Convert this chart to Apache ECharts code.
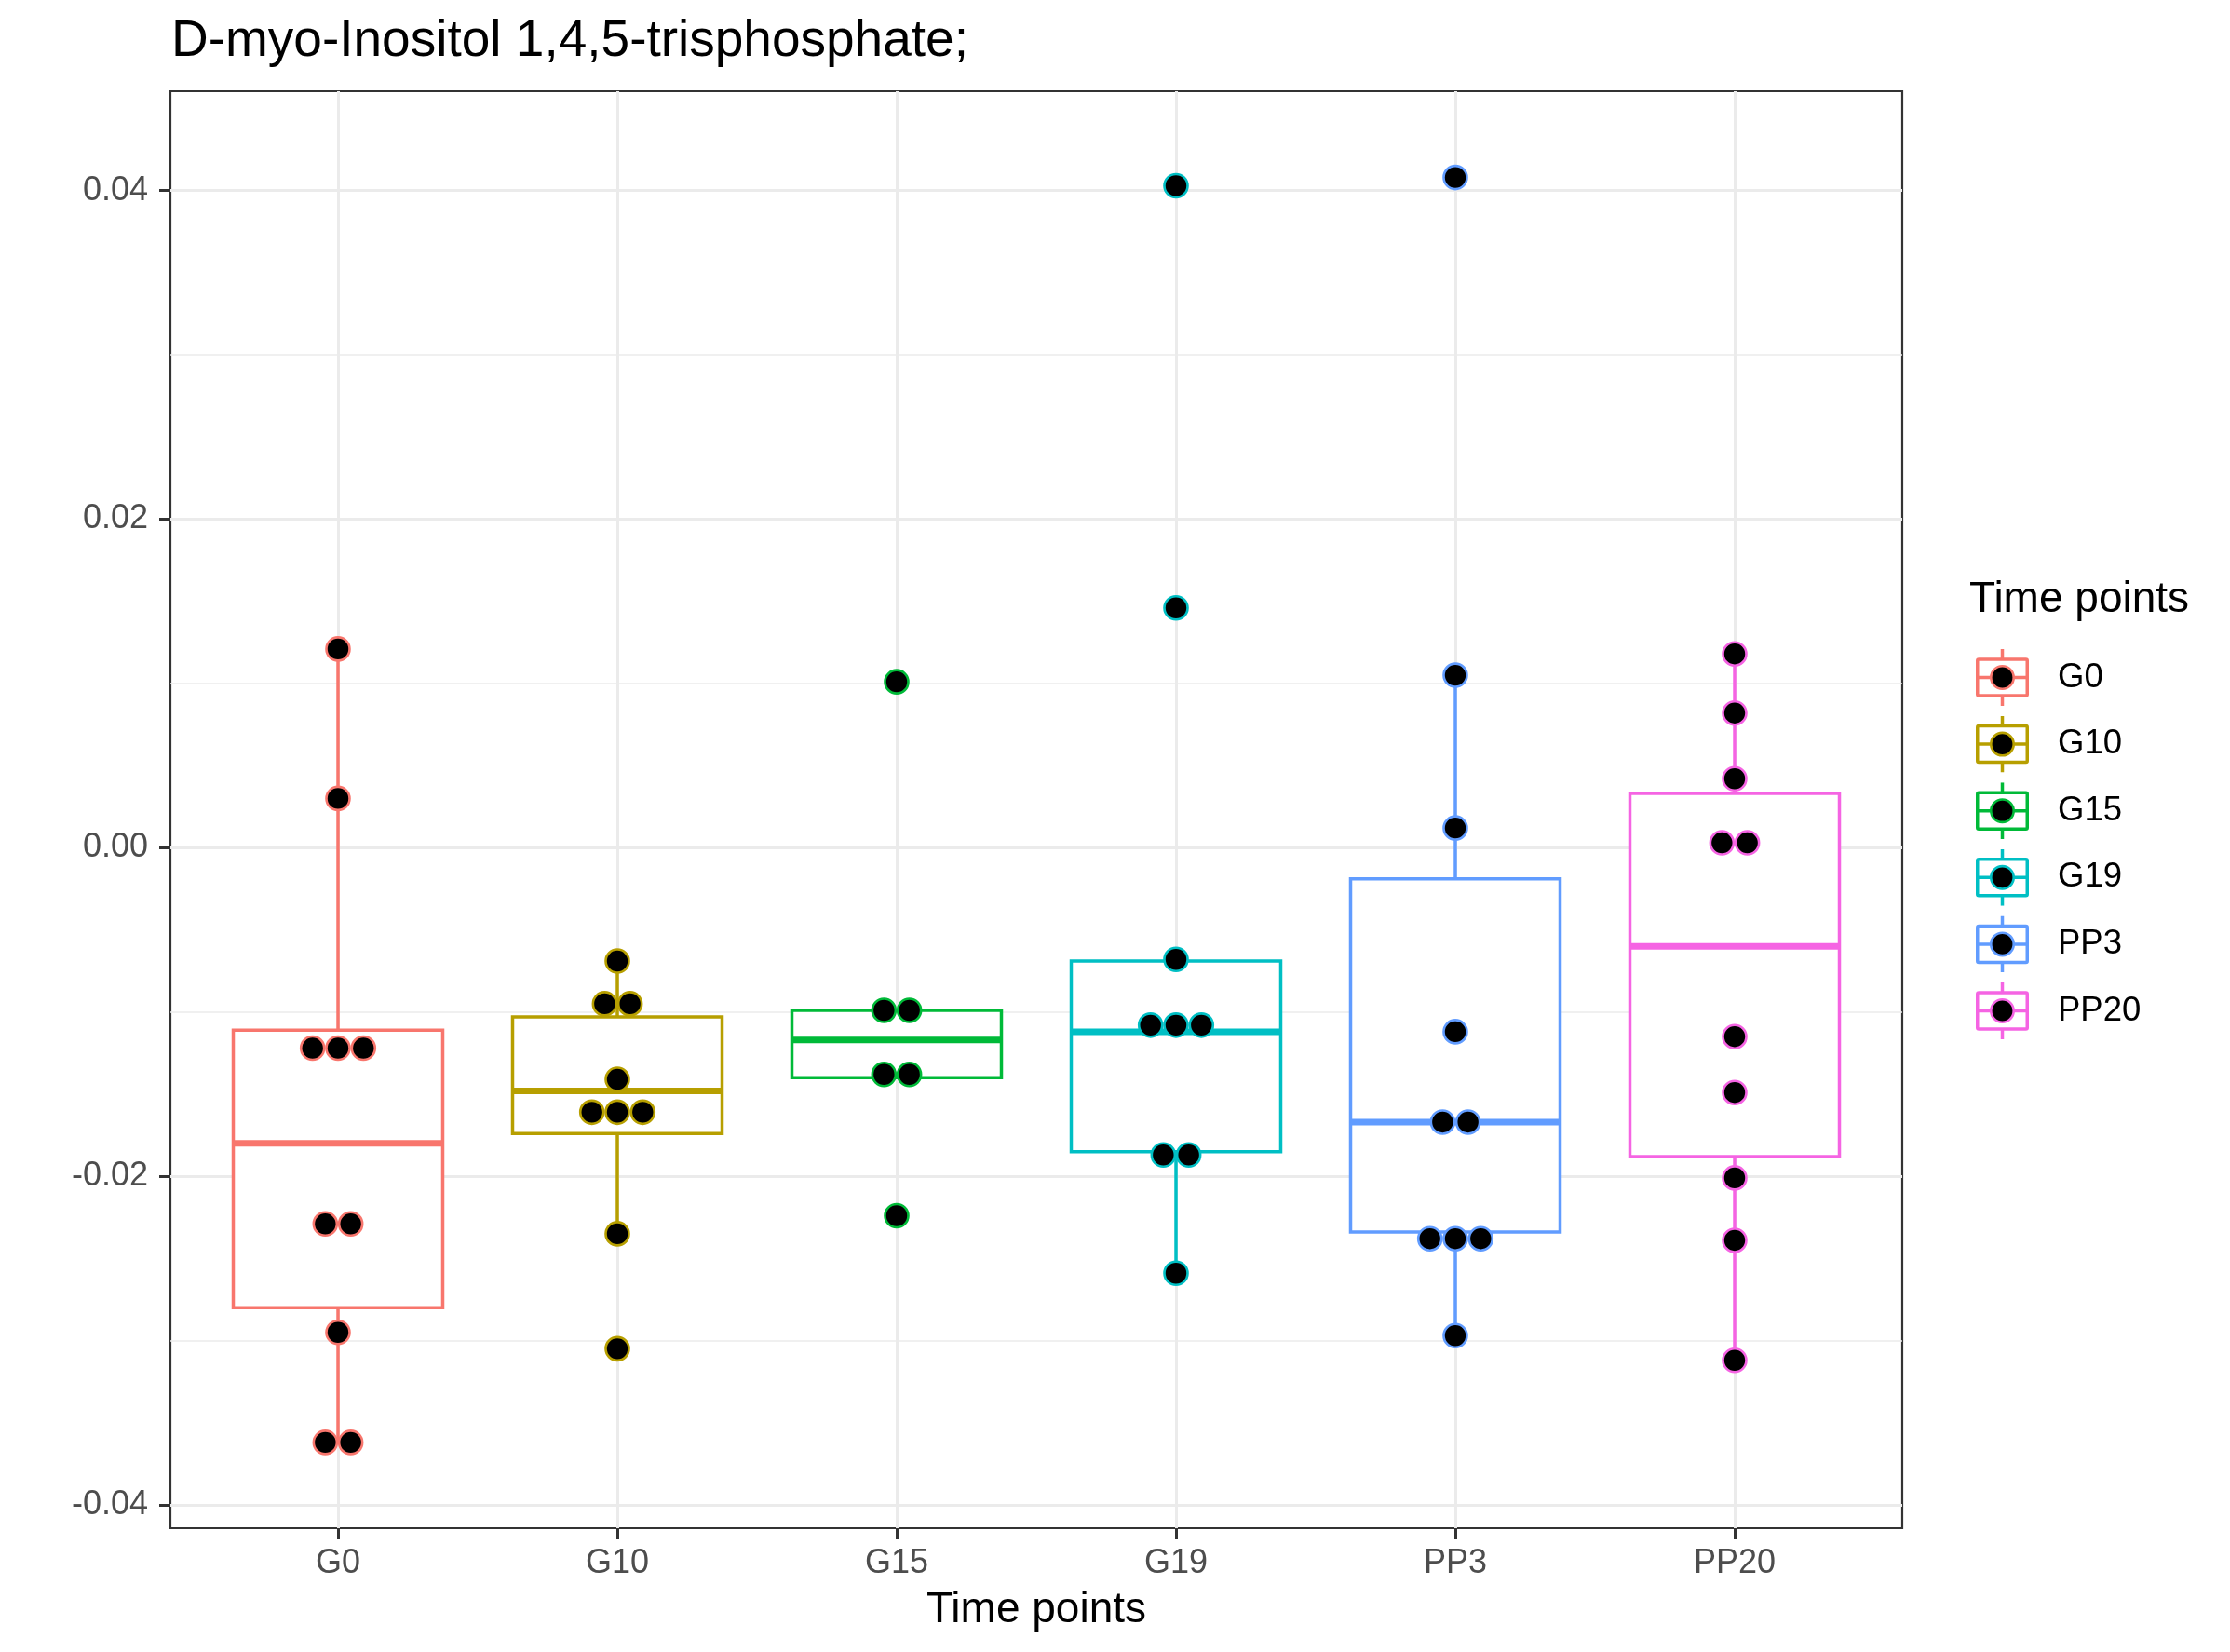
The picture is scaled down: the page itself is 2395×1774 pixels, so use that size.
<!DOCTYPE html>
<html>
<head>
<meta charset="utf-8">
<script src="https://cdn.jsdelivr.net/npm/echarts@6/dist/echarts.min.js"></script>
<style>
html,body{margin:0;padding:0;background:#fff;}
#chart{width:2395px;height:1774px;}
</style>
</head>
<body>
<div id="chart"></div>
<script>
// ---- data ----
const categories = ['G0', 'G10', 'G15', 'G19', 'PP3', 'PP20'];
const colors = ['#F8766D', '#B79F00', '#00BA38', '#00BFC4', '#619CFF', '#F564E3'];
const yTicks = [-0.04, -0.02, 0.00, 0.02, 0.04];
const yMinorTicks = [-0.03, -0.01, 0.01, 0.03];

// box stats: [lower whisker, Q1, median, Q3, upper whisker]
const boxG0   = [-0.0362, -0.0280, -0.0180, -0.0111, 0.0121];
const boxG10  = [-0.0235, -0.0174, -0.0148, -0.0103, -0.0069];
const boxG15  = [-0.0140, -0.0140, -0.0117, -0.0099, -0.0099];
const boxG19  = [-0.0259, -0.0185, -0.0112, -0.0069, -0.0069];
const boxPP3  = [-0.0297, -0.0234, -0.0167, -0.0019, 0.0105];
const boxPP20 = [-0.0312, -0.0188, -0.0060, 0.0033, 0.0118];

// dot values (binned, repeated values are stacked side by side)
const ptsG0   = [0.0121, 0.0030, -0.0122, -0.0122, -0.0122, -0.0229, -0.0229, -0.0295, -0.0362, -0.0362];
const ptsG10  = [-0.0069, -0.0095, -0.0095, -0.0141, -0.0161, -0.0161, -0.0161, -0.0235, -0.0305];
const ptsG15  = [0.0101, -0.0099, -0.0099, -0.0138, -0.0138, -0.0224];
const ptsG19  = [0.0403, 0.0146, -0.0068, -0.0108, -0.0108, -0.0108, -0.0187, -0.0187, -0.0259];
const ptsPP3  = [0.0408, 0.0105, 0.0012, -0.0112, -0.0167, -0.0167, -0.0238, -0.0238, -0.0238, -0.0297];
const ptsPP20 = [0.0118, 0.0082, 0.0042, 0.0003, 0.0003, -0.0115, -0.0149, -0.0201, -0.0239, -0.0312];

const boxes = [boxG0, boxG10, boxG15, boxG19, boxPP3, boxPP20];
const points = [ptsG0, ptsG10, ptsG15, ptsG19, ptsPP3, ptsPP20];

// ---- layout constants ----
const BOX_WIDTH = 0.75;   // in category units
const DOT_STEP = 0.091;   // horizontal spacing of stacked dots, category units
const FONT = "'Liberation Sans', Arial, Helvetica, sans-serif";

function dotLayout(values, xc) {
  const counts = {};
  values.forEach(v => { counts[v] = (counts[v] || 0) + 1; });
  const seen = {};
  return values.map(v => {
    const k = counts[v];
    const i = seen[v] = (seen[v] === undefined ? 0 : seen[v] + 1);
    return [xc + (i - (k - 1) / 2) * DOT_STEP, v];
  });
}

function legendIcon(c) {
  const svg = "<svg xmlns='http://www.w3.org/2000/svg' width='83' height='61' viewBox='0 0 83 61'>" +
    "<line x1='28.5' y1='0' x2='28.5' y2='12' stroke='" + c + "' stroke-width='3.5'/>" +
    "<line x1='28.5' y1='49' x2='28.5' y2='61' stroke='" + c + "' stroke-width='3.5'/>" +
    "<rect x='1.75' y='11' width='53.5' height='39' rx='1.5' fill='white' stroke='" + c + "' stroke-width='3.5'/>" +
    "<line x1='1.75' y1='30.5' x2='55.25' y2='30.5' stroke='" + c + "' stroke-width='3.5'/>" +
    "<circle cx='28.5' cy='30.5' r='12.2' fill='black' stroke='" + c + "' stroke-width='2.6'/>" +
    "</svg>";
  return 'image://data:image/svg+xml;charset=utf-8,' + encodeURIComponent(svg);
}

function renderBox(params, api) {
  const x = api.value(0);
  const lo = api.coord([x, api.value(1)]);
  const q1 = api.coord([x, api.value(2)]);
  const md = api.coord([x, api.value(3)]);
  const q3 = api.coord([x, api.value(4)]);
  const hi = api.coord([x, api.value(5)]);
  const hw = api.size([BOX_WIDTH, 0])[0] / 2;
  const color = api.visual('color');
  const children = [];
  if (Math.abs(hi[1] - q3[1]) > 0.5) {
    children.push({ type: 'line', shape: { x1: q3[0], y1: q3[1], x2: hi[0], y2: hi[1] },
      style: { stroke: color, lineWidth: 3.5 } });
  }
  if (Math.abs(lo[1] - q1[1]) > 0.5) {
    children.push({ type: 'line', shape: { x1: q1[0], y1: q1[1], x2: lo[0], y2: lo[1] },
      style: { stroke: color, lineWidth: 3.5 } });
  }
  children.push({ type: 'rect', shape: { x: q1[0] - hw, y: q3[1], width: 2 * hw, height: q1[1] - q3[1] },
    style: { fill: '#ffffff', stroke: color, lineWidth: 3.5 } });
  children.push({ type: 'line', shape: { x1: md[0] - hw, y1: md[1], x2: md[0] + hw, y2: md[1] },
    style: { stroke: color, lineWidth: 7 } });
  return { type: 'group', children: children };
}

const series = [];
categories.forEach((c, i) => {
  series.push({
    name: c,
    type: 'custom',
    renderItem: renderBox,
    itemStyle: { color: colors[i] },
    encode: { x: 0, y: [1, 2, 3, 4, 5] },
    data: [[i + 1].concat(boxes[i])],
    z: 2,
    silent: true
  });
});
categories.forEach((c, i) => {
  series.push({
    name: c,
    type: 'scatter',
    symbol: 'circle',
    symbolSize: 25,
    itemStyle: { color: '#000000', borderColor: colors[i], borderWidth: 2.6, opacity: 1 },
    data: dotLayout(points[i], i + 1),
    z: 3,
    silent: true
  });
});

const chart = echarts.init(document.getElementById('chart'), null, { renderer: 'canvas' });
chart.setOption({
  animation: false,
  backgroundColor: '#ffffff',
  title: [
    { text: 'D-myo-Inositol 1,4,5-trisphosphate;', left: 179, top: 12,
      textStyle: { fontFamily: FONT, fontSize: 55, fontWeight: 'normal', color: '#000' } },
    { text: 'Time points', left: 2110, top: 616,
      textStyle: { fontFamily: FONT, fontSize: 46, fontWeight: 'normal', color: '#000' } }
  ],
  legend: {
    orient: 'vertical',
    left: 2117,
    top: 692,
    itemWidth: 83,
    itemHeight: 61,
    itemGap: 10.6,
    selectedMode: false,
    textStyle: { fontFamily: FONT, fontSize: 36.5, color: '#000' },
    data: categories.map((c, i) => ({ name: c, icon: legendIcon(colors[i]) }))
  },
  grid: {
    left: 183, right: 352, top: 98, bottom: 133,
    show: true, borderColor: '#333333', borderWidth: 2.2, backgroundColor: '#ffffff',
    containLabel: false, outerBoundsMode: 'none'
  },
  xAxis: {
    type: 'value',
    min: 0.4, max: 6.6,
    position: 'bottom',
    name: 'Time points',
    nameLocation: 'middle',
    nameGap: 65,
    nameTextStyle: { fontFamily: FONT, fontSize: 46, color: '#000' },
    axisLine: { show: false, onZero: false },
    axisTick: { show: true, length: 12, customValues: [1, 2, 3, 4, 5, 6],
      lineStyle: { color: '#333333', width: 3 } },
    axisLabel: { show: true, customValues: [1, 2, 3, 4, 5, 6], margin: 20,
      formatter: v => categories[Math.round(v) - 1],
      fontFamily: FONT, fontSize: 36, color: '#4D4D4D' },
    splitLine: { show: true, lineStyle: { color: '#EBEBEB', width: 3 } },
    minorSplitLine: { show: false }
  },
  yAxis: [
    {
      type: 'value',
      min: -0.04142, max: 0.04605,
      axisLine: { show: false, onZero: false },
      axisTick: { show: true, length: 12, customValues: yTicks,
        lineStyle: { color: '#333333', width: 3 } },
      axisLabel: { show: true, customValues: yTicks, margin: 24,
        formatter: v => v.toFixed(2),
        fontFamily: FONT, fontSize: 36, color: '#4D4D4D' },
      splitLine: { show: true, lineStyle: { color: '#EBEBEB', width: 3 } }
    },
    {
      type: 'value',
      min: -0.04142, max: 0.04605,
      position: 'left',
      axisLine: { show: false, onZero: false },
      axisTick: { show: false, customValues: yMinorTicks },
      axisLabel: { show: false, customValues: yMinorTicks },
      splitLine: { show: true, lineStyle: { color: '#EBEBEB', width: 1.5 } }
    }
  ],
  series: series
});
</script>
</body>
</html>
